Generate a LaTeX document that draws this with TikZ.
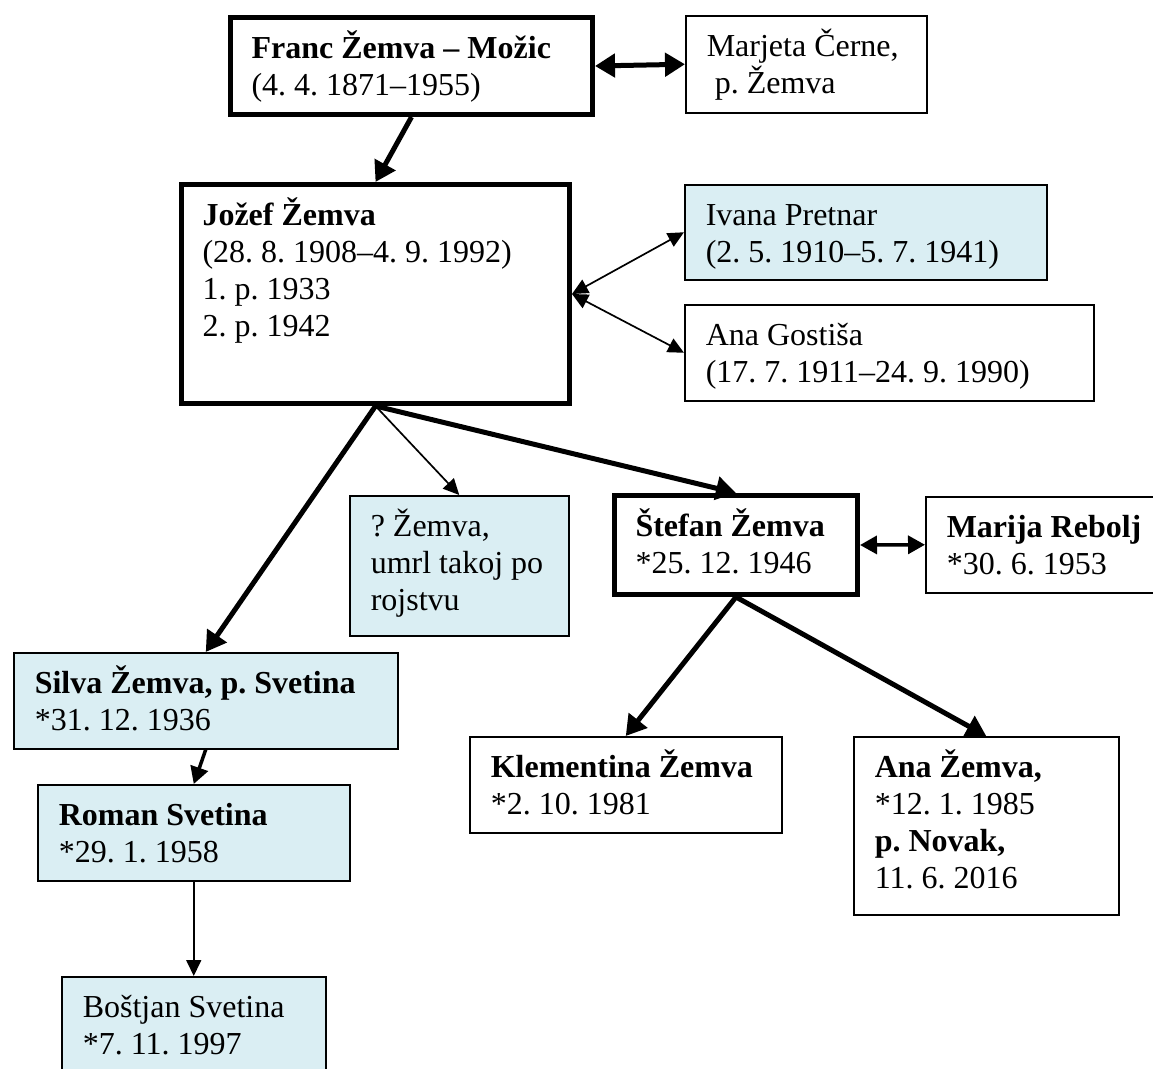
\documentclass[tikz,border=0pt]{standalone}
\usepackage{fontspec}
\setmainfont{Liberation Serif}
\usetikzlibrary{arrows.meta}
\definecolor{lblue}{HTML}{DAEEF3}
\frenchspacing
\newcommand{\ptxt}[3]{\parbox[t][\dimexpr#2pt-22pt\relax][t]{\dimexpr#1pt-42pt\relax}{\rule{0pt}{30pt}#3}}

\begin{document}
\begin{tikzpicture}[x=1pt, y=-1pt,
  every node/.style={font=\fontsize{32}{37}\selectfont},
  plainbox/.style={draw, anchor=north west, inner xsep=21pt, inner ysep=11pt, line width=1.5pt},
  keybox/.style={plainbox, line width=5pt},
  bluebox/.style={plainbox, fill=lblue},
  thinarr/.style={line width=1.7pt, >={Triangle[length=16pt,width=15pt]}},
  midarr/.style={line width=3.5pt, >={Triangle[length=17pt,width=18pt]}},
  thickarr/.style={line width=5pt, >={Triangle[length=20pt,width=23pt]}}]
  \useasboundingbox (0,0) rectangle (1153,1068);
  % first generations
  \node[keybox] (franc) at (228,15) {\ptxt{362}{97}{\textbf{Franc Žemva – Možic}\\(4. 4. 1871–1955)}};
  \node[plainbox] (marjeta) at (685,15) {\ptxt{241}{97}{Marjeta Černe,\\\hspace*{8pt}p. Žemva}};
  \node[keybox] (jozef) at (179,182) {\ptxt{388}{219}{\textbf{Jožef Žemva}\\(28. 8. 1908–4. 9. 1992)\\1. p. 1933\\2. p. 1942}};
  \node[bluebox] (ivana) at (684,184) {\ptxt{362}{95}{Ivana Pretnar\\(2. 5. 1910–5. 7. 1941)}};
  \node[plainbox] (anag) at (684,304) {\ptxt{409}{96}{Ana Gostiša\\(17. 7. 1911–24. 9. 1990)}};
  % children
  \node[bluebox] (qzemva) at (349,495) {\ptxt{219}{140}{? Žemva,\\umrl takoj po\\rojstvu}};
  \node[keybox] (stefan) at (612,493) {\ptxt{243}{99}{\textbf{Štefan Žemva}\\{}*25. 12. 1946}};
  \node[plainbox] (marija) at (925,496) {\ptxt{250}{96}{\textbf{Marija Rebolj}\\{}*30. 6. 1953}};
  \node[bluebox] (silva) at (13,652) {\ptxt{384}{96}{\textbf{Silva Žemva, p. Svetina}\\{}*31. 12. 1936}};
  \node[bluebox] (roman) at (37,784) {\ptxt{312}{96}{\textbf{Roman Svetina}\\{}*29. 1. 1958}};
  \node[bluebox] (bostjan) at (61,976) {\ptxt{264}{110}{Boštjan Svetina\\{}*7. 11. 1997}};
  \node[plainbox] (klem) at (469,736) {\ptxt{312}{96}{\textbf{Klementina Žemva}\\{}*2. 10. 1981}};
  \node[plainbox] (anaz) at (853,736) {\ptxt{265}{178}{\textbf{Ana Žemva,}\\{}*12. 1. 1985\\\textbf{p. Novak,}\\11. 6. 2016}};
  % connectors
  \draw[thickarr,<->] (franc.east) -- (marjeta.west);
  \draw[thickarr,->] (franc.south) -- (jozef.north);
  \draw[thinarr,<->] (jozef.east) -- (ivana.west);
  \draw[thinarr,<->] (jozef.east) -- (anag.west);
  \draw[thickarr,->] (jozef.south) -- (silva.north);
  \draw[thinarr,->] (jozef.south) -- (qzemva.north);
  \draw[thickarr,->] (jozef.south) -- (stefan.north);
  \draw[midarr,<->] (stefan.east) -- (marija.west);
  \draw[thickarr,->] (stefan.south) -- (klem.north);
  \draw[thickarr,->] (stefan.south) -- (anaz.north);
  \draw[midarr,->] (silva.south) -- (roman.north);
  \draw[thinarr,->] (roman.south) -- (bostjan.north);
\end{tikzpicture}
\end{document}
